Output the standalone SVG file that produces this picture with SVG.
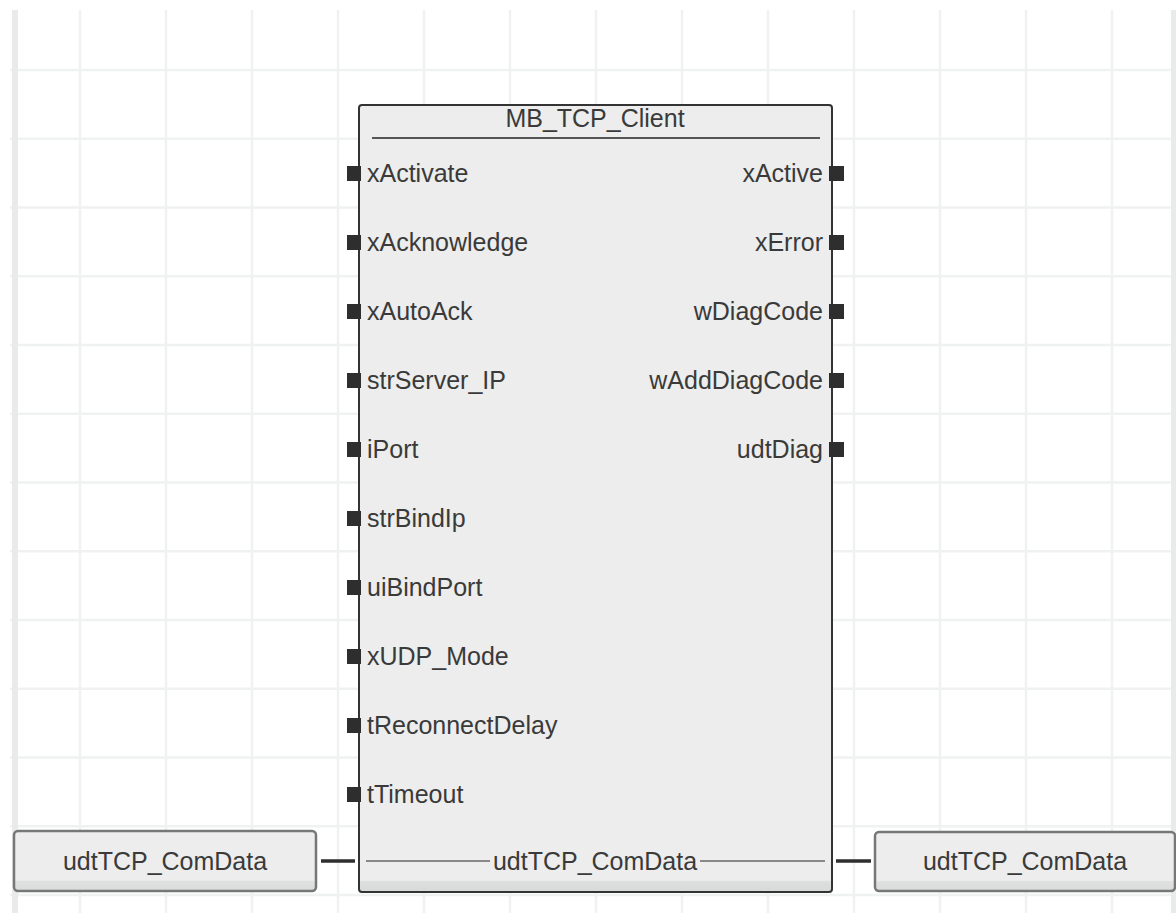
<svg xmlns="http://www.w3.org/2000/svg" width="1176" height="913" viewBox="0 0 1176 913">
  <style>
    .grid { stroke: #f0f1f1; stroke-width: 2.5; fill: none; }
    .edge { stroke: #e9ebeb; stroke-width: 6; fill: none; }
    .body { fill: url(#bodyFill); stroke: #333; stroke-width: 2; }
    .var { fill: url(#varFill); stroke: #777; stroke-width: 2.5; }
    .lbl { font-family: "Liberation Sans", Arial, sans-serif; font-size: 25px; fill: #3a3a3a; }
    .r { text-anchor: end; }
    .c { text-anchor: middle; }
    .pin { fill: #2e2e2e; }
    .sep { stroke: #555; stroke-width: 2; }
    .inner { stroke: #888; stroke-width: 2; }
    .wire { stroke: #2e2e2e; stroke-width: 3.5; }
  </style>
  <defs>
    <linearGradient id="bodyFill" x1="0" y1="0" x2="0" y2="1">
      <stop offset="0" stop-color="#ecedec"/>
      <stop offset="0.985" stop-color="#ecedec"/>
      <stop offset="0.987" stop-color="#dddede"/>
      <stop offset="1" stop-color="#d8d9d9"/>
    </linearGradient>
    <linearGradient id="varFill" x1="0" y1="0" x2="0" y2="1">
      <stop offset="0" stop-color="#ecedec"/>
      <stop offset="0.82" stop-color="#ecedec"/>
      <stop offset="0.84" stop-color="#dfe0e0"/>
      <stop offset="1" stop-color="#dadbdb"/>
    </linearGradient>
  </defs>

  <rect width="1176" height="913" fill="#ffffff"/>

  <!-- background grid -->
  <g id="grid">
    <path class="grid" d="M80 10V913M166 10V913M252 10V913M338 10V913M424 10V913M510 10V913M596 10V913M682 10V913M768 10V913M854 10V913M940 10V913M1026 10V913M1112 10V913"/>
    <path class="grid" d="M10 70H1176M10 138.75H1176M10 207.5H1176M10 276.25H1176M10 345H1176M10 413.75H1176M10 482.5H1176M10 551.25H1176M10 620H1176M10 688.75H1176M10 757.5H1176M10 826.25H1176M10 895H1176"/>
    <path class="edge" d="M15 10V913M1174 10V913"/>
  </g>

  <!-- connectors -->
  <g id="connectors">
    <line class="wire" x1="321" y1="861" x2="355" y2="861"/>
    <line class="wire" x1="836" y1="861" x2="871" y2="861"/>
  </g>

  <!-- function block -->
  <g id="mb_tcp_client">
    <rect class="body" x="359" y="105" width="473" height="787" rx="3"/>
    <text class="lbl c" x="595" y="127">MB_TCP_Client</text>
    <line class="sep" x1="372" y1="138" x2="820" y2="138"/>

    <!-- inputs -->
    <g id="inputs">
      <rect class="pin" x="347" y="166" width="14" height="15"/>
      <text class="lbl" x="367" y="182">xActivate</text>
      <rect class="pin" x="347" y="235" width="14" height="15"/>
      <text class="lbl" x="367" y="251">xAcknowledge</text>
      <rect class="pin" x="347" y="304" width="14" height="15"/>
      <text class="lbl" x="367" y="320">xAutoAck</text>
      <rect class="pin" x="347" y="373" width="14" height="15"/>
      <text class="lbl" x="367" y="389">strServer_IP</text>
      <rect class="pin" x="347" y="442" width="14" height="15"/>
      <text class="lbl" x="367" y="458">iPort</text>
      <rect class="pin" x="347" y="511" width="14" height="15"/>
      <text class="lbl" x="367" y="527">strBindIp</text>
      <rect class="pin" x="347" y="580" width="14" height="15"/>
      <text class="lbl" x="367" y="596">uiBindPort</text>
      <rect class="pin" x="347" y="649" width="14" height="15"/>
      <text class="lbl" x="367" y="665">xUDP_Mode</text>
      <rect class="pin" x="347" y="718" width="14" height="15"/>
      <text class="lbl" x="367" y="734">tReconnectDelay</text>
      <rect class="pin" x="347" y="787" width="14" height="15"/>
      <text class="lbl" x="367" y="803">tTimeout</text>
    </g>

    <!-- outputs -->
    <g id="outputs">
      <rect class="pin" x="829" y="166" width="15" height="15"/>
      <text class="lbl r" x="823" y="182">xActive</text>
      <rect class="pin" x="829" y="235" width="15" height="15"/>
      <text class="lbl r" x="823" y="251">xError</text>
      <rect class="pin" x="829" y="304" width="15" height="15"/>
      <text class="lbl r" x="823" y="320">wDiagCode</text>
      <rect class="pin" x="829" y="373" width="15" height="15"/>
      <text class="lbl r" x="823" y="389">wAddDiagCode</text>
      <rect class="pin" x="829" y="442" width="15" height="15"/>
      <text class="lbl r" x="823" y="458">udtDiag</text>
    </g>

    <!-- in/out parameter -->
    <g id="inout">
      <line class="inner" x1="366" y1="861" x2="490" y2="861"/>
      <text class="lbl c" x="595" y="870">udtTCP_ComData</text>
      <line class="inner" x1="700" y1="861" x2="825" y2="861"/>
    </g>
  </g>

  <!-- variable attached on the input side -->
  <g id="var_in">
    <rect class="var" x="14" y="831" width="302" height="60" rx="4"/>
    <text class="lbl c" x="165" y="870">udtTCP_ComData</text>
  </g>

  <!-- variable attached on the output side -->
  <g id="var_out">
    <rect class="var" x="875" y="832" width="300" height="59" rx="4"/>
    <text class="lbl c" x="1025" y="870">udtTCP_ComData</text>
  </g>
</svg>
